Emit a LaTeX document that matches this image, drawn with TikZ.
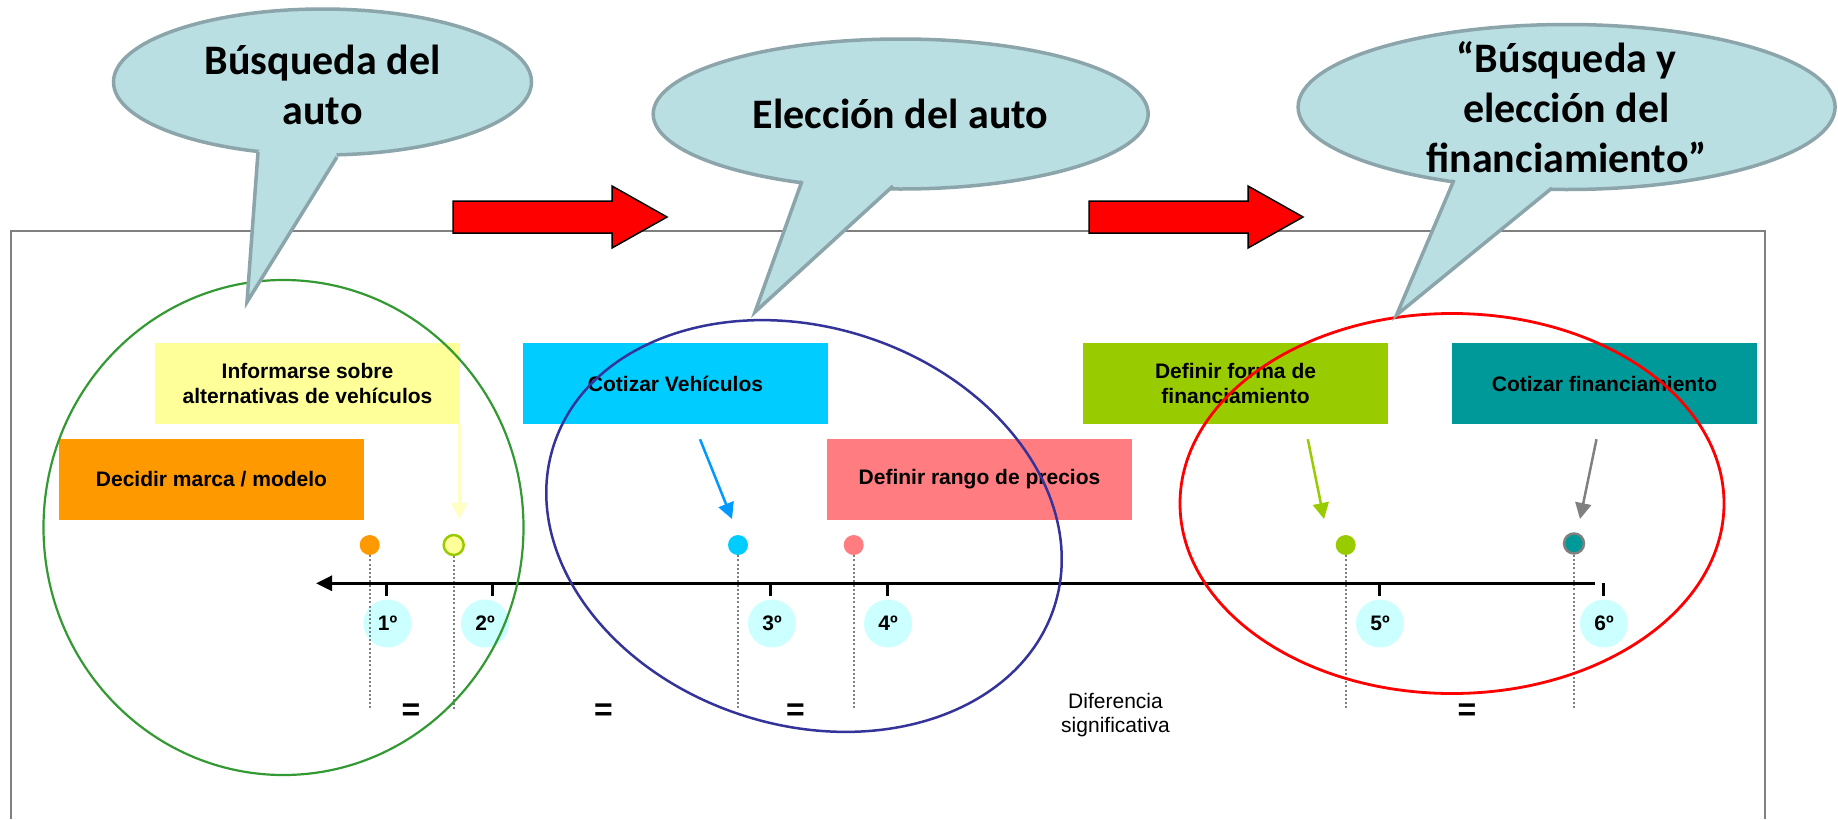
\documentclass[tikz,border=0pt]{standalone}
\usepackage{fontspec}
\setmainfont{Liberation Sans}
\newfontfamily\bubblefont{Carlito}
\usepackage{xcolor}
\usepackage{tikz}
\usetikzlibrary{arrows.meta,shapes,positioning}

\definecolor{bubblefill}{HTML}{B9DFE3}
\definecolor{bubbleedge}{HTML}{8BA5AB}
\definecolor{boxyellow}{HTML}{FFFF99}
\definecolor{boxorange}{HTML}{FF9900}
\definecolor{boxcyan}{HTML}{00CCFF}
\definecolor{boxpink}{HTML}{FF7C80}
\definecolor{boxlime}{HTML}{99CC00}
\definecolor{boxteal}{HTML}{009999}
\definecolor{ordfill}{HTML}{CCFFFF}
\definecolor{ptryellow}{HTML}{FFFFC4}
\definecolor{ptrblue}{HTML}{0099FF}
\definecolor{ringgreen}{HTML}{339933}
\definecolor{ringblue}{HTML}{333399}
\definecolor{framegray}{HTML}{808080}

\tikzset{
    bubble/.style={ellipse, draw=bubbleedge, fill=bubblefill, line width=3.5pt, inner sep=0pt},
    bubbletext/.style={font=\bubblefont\bfseries\fontsize{42}{50}\selectfont, align=center},
    stepbox/.style={rectangle, minimum width=305pt, minimum height=81pt, inner sep=0pt, align=center, font=\bfseries\fontsize{21}{25}\selectfont},
    dot/.style={circle, minimum size=20pt, inner sep=0pt},
    ordinal/.style={circle, fill=ordfill, minimum size=48pt, inner sep=0pt, font=\bfseries\fontsize{21}{25}\selectfont},
    eqsign/.style={inner sep=0pt, font=\bfseries\fontsize{32}{32}\selectfont},
    guide/.style={draw=framegray, line width=2pt, dash pattern=on 2pt off 2.2pt},
    ptr/.style={->, >={Triangle[length=16pt,width=16pt]}, line width=2.5pt},
    redarrow/.style={fill=red, draw=black, line width=1.5pt, line join=miter},
}

\begin{document}
\begin{tikzpicture}[x=1pt,y=-1pt]
        \useasboundingbox (0,0) rectangle (1838,819);
        \draw[framegray, line width=2.5pt] (11,819) -- (11,231) -- (1765,231) -- (1765,819);

        \foreach \ax in {453,1089}
            \draw[redarrow] (\ax,201) -- ++(159,0) -- ++(0,-15) -- ++(55,31) -- ++(-55,31) -- ++(0,-15) -- ++(-159,0) -- cycle;

        \node[stepbox, fill=boxyellow] (INF) at (307.5,383.5) {Informarse sobre\\alternativas de vehículos};
        \node[stepbox, fill=boxorange] (DEC) at (211.5,479.5) {Decidir marca / modelo};
        \node[stepbox, fill=boxcyan] (COTV) at (675.5,383.5) {Cotizar Vehículos};
        \node[stepbox, fill=boxpink] (RAN) at (979.5,479.5) {Definir rango de precios};
        \node[stepbox, fill=boxlime] (FOR) at (1235.5,383.5) {Definir forma de\\financiamiento};
        \node[stepbox, fill=boxteal] (COTF) at (1604.5,383.5) {Cotizar financiamiento};

        \foreach \tx/\nx/\lab [count=\i] in {386.7/387.5/1º, 492/485/2º, 770.5/772/3º, 887/888/4º, 1379.4/1380/5º, 1603.5/1604/6º} {
            \draw[line width=3pt] (\tx,583) -- (\tx,596);
            \node[ordinal] (N\i) at (\nx,623.5) {\lab};
        }

        \node[dot, fill=boxorange] (D1) at (369.7,545) {};
        \node[dot, fill=boxyellow, draw=boxlime, line width=2.5pt] (D2) at (453.7,545) {};
        \node[dot, fill=boxcyan] (D3) at (738,545) {};
        \node[dot, fill=boxpink] (D4) at (853.7,545) {};
        \node[dot, fill=boxlime] (D5) at (1345.7,545) {};
        \node[dot, fill=boxteal, draw=framegray, line width=2.5pt] (D6) at (1574,543.5) {};

        \coordinate (G) at (0,710);
        \foreach \i in {1,...,6}
            \draw[guide] (D\i) -- (D\i |- G);

        \coordinate (AxR) at (1595,583.3);
        \coordinate (AxL) at (316,583.3);
        \draw[->, >={Triangle[length=16pt,width=15pt]}, line width=3pt] (AxR) -- (AxL);

        \draw[ptr, ptryellow, line width=3pt] ([shift={(152,0)}]INF.south) -- ([shift={(5.6,-26)}]D2.center);
        \draw[ptr, ptrblue] ([shift={(24.5,15)}]COTV.south) -- ([shift={(-6,-26)}]D3.center);
        \draw[ptr, boxlime] ([shift={(72.3,15)}]FOR.south) -- ([shift={(-21.7,-26)}]D5.center);
        \draw[ptr, framegray] ([shift={(-8,15)}]COTF.south) -- ([shift={(6,-24.5)}]D6.center);

        \foreach \ex [count=\i] in {411,603.5,795.4,1467}
            \node[eqsign] (E\i) at (\ex,711.7) {=};
        \node[align=center, font=\fontsize{21}{24}\selectfont] (DIF) at (1115.5,715) {Diferencia\\significativa};

        % phases
        \draw[ringgreen, line width=2.2pt] (283.5,527.5) ellipse [x radius=240, y radius=247.5];
        \draw[ringblue, line width=2.5pt, rotate around={-17.8:(804,526)}] (804,526) ellipse [x radius=263, y radius=199];
        \draw[red, line width=2.8pt] (1452,503.5) ellipse [x radius=272, y radius=190];

        % callouts
        \node[bubble, minimum width=418pt, minimum height=146pt] (B1) at (322.5,82) {};
        \coordinate (T1) at (247,302);
        \fill[bubblefill] (258,152) -- (T1) -- (337,157) -- (B1.center) -- cycle;
        \draw[bubbleedge, line width=3.5pt] (258,152) -- (T1) -- (337,157);
        \node[bubbletext] (B1t) at (322.5,85) {Búsqueda del\\auto};

        \node[bubble, minimum width=495pt, minimum height=150pt] (B2) at (900.7,114) {};
        \coordinate (T2) at (755,312);
        \fill[bubblefill] (802,181) -- (T2) -- (893,186) -- (B2.center) -- cycle;
        \draw[bubbleedge, line width=3.5pt] (802,181) -- (T2) -- (893,186);
        \node[bubbletext] (B2t) at (900.7,114) {Elección del auto};

        \node[bubble, minimum width=537pt, minimum height=165pt] (B3) at (1566.6,107) {};
        \coordinate (T3) at (1396.5,315);
        \fill[bubblefill] (1454,180) -- (T3) -- (1552,188) -- (B3.center) -- cycle;
        \draw[bubbleedge, line width=3.5pt] (1454,180) -- (T3) -- (1552,188);
        \node[bubbletext] (B3t) at (1566.6,107) {“Búsqueda y\\elección del\\financiamiento”};
    \end{tikzpicture}
\end{document}
